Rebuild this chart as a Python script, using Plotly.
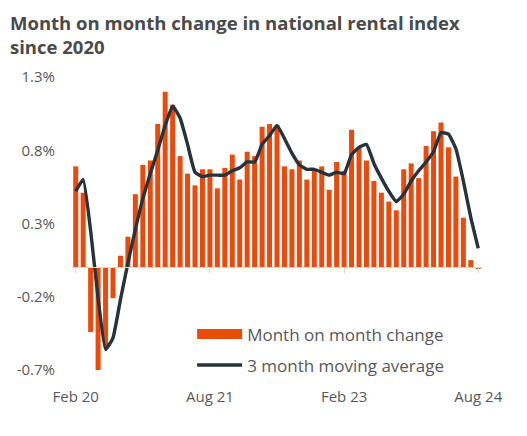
# %%
# imports
import pandas as pd
import plotly.graph_objects as go

# %%
# Data (percent, Feb 2020 - Aug 2024)
months = pd.date_range("2020-02-01", "2024-08-01", freq="MS").strftime("%b %y").tolist()

mom_change = [
    0.69, 0.51, -0.44, -0.70, -0.54, -0.21, 0.08, 0.21, 0.50, 0.70, 0.73,
    0.98, 1.20, 1.11, 0.76, 0.64, 0.56, 0.67, 0.67, 0.54, 0.68, 0.77,
    0.60, 0.79, 0.76, 0.96, 0.98, 0.97, 0.69, 0.67, 0.73, 0.60, 0.67,
    0.69, 0.53, 0.72, 0.66, 0.94, 0.82, 0.73, 0.59, 0.51, 0.45, 0.39,
    0.67, 0.71, 0.61, 0.83, 0.93, 0.99, 0.82, 0.62, 0.34, 0.05, -0.01,
]
moving_avg = [
    0.52, 0.60, 0.25, -0.21, -0.56, -0.48, -0.22, 0.03, 0.26, 0.47, 0.64,
    0.80, 0.97, 1.10, 1.02, 0.84, 0.65, 0.62, 0.63, 0.63, 0.63, 0.66,
    0.68, 0.72, 0.72, 0.84, 0.90, 0.97, 0.88, 0.78, 0.70, 0.67, 0.67,
    0.65, 0.63, 0.65, 0.64, 0.77, 0.82, 0.84, 0.71, 0.61, 0.52, 0.45,
    0.50, 0.59, 0.66, 0.72, 0.79, 0.92, 0.91, 0.81, 0.59, 0.34, 0.13,
]
x_ticks = ["Feb 20", "Aug 21", "Feb 23", "Aug 24"]
y_ticks = [-0.7, -0.2, 0.3, 0.8, 1.3]
y_labels = ["-0.7%", "-0.2%", "0.3%", "0.8%", "1.3%"]

BAR_COLOR = "#EA4A0C"
LINE_COLOR = "#26333D"
TEXT_COLOR = "#595959"
FONT = "Open Sans"

# %%
# Figure
fig = go.Figure()
fig.add_trace(go.Bar(
    x=months, y=mom_change, name="Month on month change",
    marker_color=BAR_COLOR, marker_line_width=0, showlegend=False,
))
fig.add_trace(go.Scatter(
    x=months, y=moving_avg, name="3 month moving average",
    mode="lines", line=dict(color=LINE_COLOR, width=3.4, shape="spline", smoothing=0.4),
    legendgroup="b", showlegend=False,
))
# legend entries: thick line for the bar swatch, then the moving average
fig.add_trace(go.Scatter(
    x=[months[0]], y=[None], name="Month on month change", mode="lines",
    line=dict(color=BAR_COLOR, width=12), legendgroup="a",
))
fig.add_trace(go.Scatter(
    x=[months[0]], y=[None], name="3 month moving average", mode="lines",
    line=dict(color=LINE_COLOR, width=3.4), legendgroup="b",
))
# dummy trace so the zero axis (with its little tick marks) gets drawn
fig.add_trace(go.Scatter(
    x=months, y=[None] * len(months), xaxis="x2", showlegend=False,
    hoverinfo="skip",
))

# page body has an 8px margin, so the figure is a bit smaller than the window
fig.update_layout(
    width=519, height=428,
    margin=dict(l=64, r=45, t=69, b=66, autoexpand=False),
    paper_bgcolor="white", plot_bgcolor="white",
    font=dict(family=FONT, color=TEXT_COLOR, size=15),
    bargap=0.33,
    legend=dict(
        x=0.293, y=0.183, xanchor="left", yanchor="top",
        font=dict(size=17, color=TEXT_COLOR), bgcolor="rgba(0,0,0,0)",
        traceorder="grouped", tracegroupgap=6, itemwidth=45,
    ),
    showlegend=True,
)
fig.add_annotation(
    text="<b>Month on month change in national rental index<br>since 2020</b>",
    xref="paper", yref="paper", x=-0.156, y=1.235, xanchor="left", yanchor="top",
    align="left", showarrow=False,
    font=dict(family=FONT, size=18.5, color="#4A4A4A"),
)
fig.update_xaxes(
    type="category", categoryorder="array", categoryarray=months,
    range=[-0.5, len(months) - 0.5],
    tickvals=x_ticks, showgrid=False, showline=False, ticks="",
    zeroline=False, ticklabelstandoff=16, automargin=False,
)
fig.update_layout(xaxis2=dict(
    type="category", categoryorder="array", categoryarray=months,
    range=[-0.5, len(months) - 0.5],
    overlaying="x", anchor="free", position=0.35, side="bottom",
    showline=True, linecolor="#D9D9D9", linewidth=1,
    ticks="outside", ticklen=5, tickcolor="#D9D9D9",
    tickvals=x_ticks, showticklabels=False, showgrid=False, zeroline=False,
))
fig.update_yaxes(
    range=[-0.7, 1.3], tickvals=y_ticks, ticktext=y_labels,
    showgrid=False, zeroline=False, showline=False, ticks="",
    ticklabelstandoff=16, automargin=False,
)

fig.write_html("out.html")
